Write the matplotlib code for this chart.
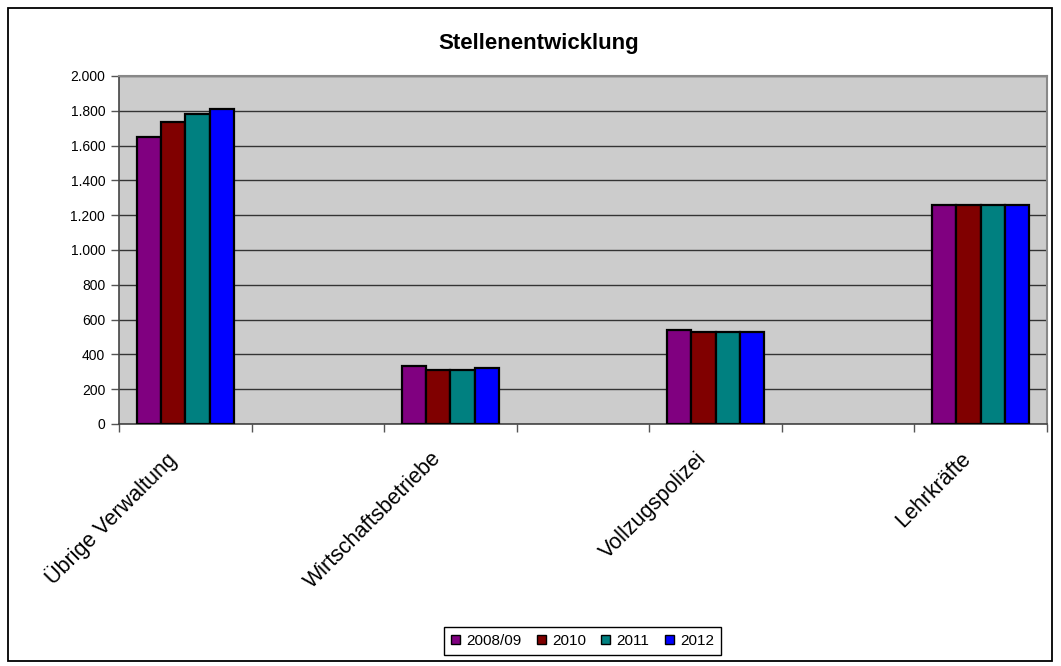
import numpy as np
import matplotlib.pyplot as plt
from matplotlib.patches import Rectangle

plt.rcParams['font.family'] = ['Liberation Sans', 'DejaVu Sans']

# Stellen je Bereich und Jahr
bereiche = ['Übrige Verwaltung', 'Wirtschaftsbetriebe', 'Vollzugspolizei', 'Lehrkräfte']
jahre = ['2008/09', '2010', '2011', '2012']
stellen_2008 = [1652, 334, 540, 1257]
stellen_2010 = [1735, 309, 530, 1257]
stellen_2011 = [1780, 309, 528, 1257]
stellen_2012 = [1811, 323, 528, 1257]
farben = ['#800080', '#800000', '#008080', '#0000ff']
y_ticks = [0, 200, 400, 600, 800, 1000, 1200, 1400, 1600, 1800, 2000]
y_labels = ['0', '200', '400', '600', '800', '1.000', '1.200', '1.400',
            '1.600', '1.800', '2.000']

werte = [stellen_2008, stellen_2010, stellen_2011, stellen_2012]

fig = plt.figure(figsize=(10.61, 6.66), dpi=100)
ax = fig.add_axes([0.1122, 0.3634, 0.8746, 0.5225])
ax.set_facecolor('#cccccc')

# jede Kategorie belegt jede zweite Spalte (leere Spalten dazwischen)
n_slots = 2 * len(bereiche) - 1
pos = np.arange(len(bereiche)) * 2
breite = 0.183
for i, (jahr, w) in enumerate(zip(jahre, werte)):
    x = pos + (i - 1.5) * breite
    ax.bar(x, w, width=breite, color=farben[i], edgecolor='black',
           linewidth=1.6, label=jahr, zorder=3)

ax.set_xlim(-0.5, n_slots - 0.5)
ax.set_ylim(0, 2000)
ax.set_yticks(y_ticks)
ax.set_yticklabels(y_labels, fontsize=10)
ax.yaxis.grid(True, color='#333333', linewidth=1.0, zorder=1)
ax.set_axisbelow(True)

# Striche an den Spaltengrenzen, Beschriftung schraeg darunter
ax.set_xticks(np.arange(n_slots + 1) - 0.5)
ax.set_xticklabels([])
ax.tick_params(axis='x', length=6, color='#555555', width=1)
ax.tick_params(axis='y', length=6, color='#555555', width=1, pad=4)
for p, name in zip(pos, bereiche):
    ax.annotate(name, xy=(p, 0), xycoords=('data', 'axes fraction'),
                xytext=(-20, -24), textcoords='offset pixels',
                rotation=45, ha='right', va='top', rotation_mode='anchor',
                fontsize=15.5)

for s in ['top', 'right']:
    ax.spines[s].set_color('#888888')
    ax.spines[s].set_linewidth(1.5)
for s in ['left', 'bottom']:
    ax.spines[s].set_color('#444444')
    ax.spines[s].set_linewidth(1.2)

fig.text(0.508, 0.935, 'Stellenentwicklung', ha='center', va='center',
         fontsize=16, fontweight='bold')

leg = fig.legend(loc='center', bbox_to_anchor=(0.549, 0.0375), ncol=4,
                 fontsize=11, handlelength=0.6, handleheight=0.6,
                 handletextpad=0.4, columnspacing=1.0, fancybox=False,
                 framealpha=1, edgecolor='black', borderpad=0.45)
leg.get_frame().set_linewidth(1.0)
for h in leg.legend_handles:
    h.set_linewidth(1.0)

# Rahmen um das ganze Diagramm
fig.patches.append(Rectangle((8 / 1061, 5 / 666), 1044 / 1061, 653 / 666,
                             transform=fig.transFigure, fill=False,
                             edgecolor='black', linewidth=1.3))

fig.savefig('out.png', dpi=100)
